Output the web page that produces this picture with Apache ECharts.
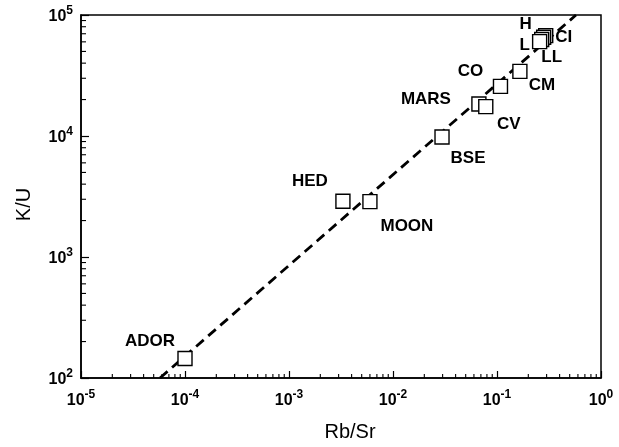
<!DOCTYPE html>
<html>
<head>
<meta charset="utf-8">
<script src="https://cdn.jsdelivr.net/npm/echarts@6/dist/echarts.min.js"></script>
<style>
html,body{margin:0;padding:0;background:#fff;}
#chart{width:619px;height:447px;}
</style>
</head>
<body>
<div id="chart"></div>
<script>
// ---- data ----
const names  = ['ADOR', 'HED', 'MOON', 'BSE', 'MARS', 'CV', 'CO', 'CM', 'CI', 'H', 'LL', 'L'];
const rbSr   = [1.0e-4, 3.3e-3, 6.0e-3, 0.0296, 0.067, 0.078, 0.108, 0.166, 0.294, 0.281, 0.269, 0.257];
const kU     = [145, 2890, 2870, 9800, 18400, 17500, 25700, 34200, 67600, 65500, 62700, 60300];
const fitX   = [5.75e-5, 0.575];
const fitY   = [100, 100000];
const xExps  = [-5, -4, -3, -2, -1, 0];
const yExps  = [2, 3, 4, 5];
const minorMultipliers = [2, 3, 4, 5, 6, 7, 8, 9];

// label placement (pixels relative to marker centre)
const labelOffsets = {
  ADOR: [-35, -17], HED: [-33, -20], MOON: [37, 25], BSE: [26, 21],
  MARS: [-53, -5], CV: [23, 18], CO: [-30, -15], CM: [22, 14],
  L: [-15, 4], LL: [10, 18], H: [-18, -13], CI: [18, 2]
};

const xMin = Math.pow(10, xExps[0]), xMax = Math.pow(10, xExps[xExps.length - 1]);
const yMin = Math.pow(10, yExps[0]), yMax = Math.pow(10, yExps[yExps.length - 1]);

// minor tick values
const xMinor = [];
for (let i = 0; i < xExps.length - 1; i++)
  minorMultipliers.forEach(m => xMinor.push([m * Math.pow(10, xExps[i]), yMin, 0]));
const yMinor = [];
for (let i = 0; i < yExps.length - 1; i++)
  minorMultipliers.forEach(m => yMinor.push([xMin, m * Math.pow(10, yExps[i]), 1]));

const FONT = '"Liberation Sans", Arial, sans-serif';
const supFmt = v => '{b|10}{s|' + Math.round(Math.log10(v)) + '}';
const rich = {
  b: { fontSize: 16, fontWeight: 'bold', lineHeight: 20, verticalAlign: 'bottom', color: '#000', fontFamily: FONT },
  s: { fontSize: 12, fontWeight: 'bold', lineHeight: 7, verticalAlign: 'top', color: '#000', fontFamily: FONT }
};

const chart = echarts.init(document.getElementById('chart'), null, { renderer: 'canvas' });
chart.setOption({
  animation: false,
  backgroundColor: '#fff',
  grid: { left: 81, right: 18, top: 15, bottom: 67, show: true, borderColor: '#000', borderWidth: 1.5, backgroundColor: 'transparent' },
  xAxis: {
    type: 'log', logBase: 10, min: xMin, max: xMax,
    name: 'Rb/Sr', nameLocation: 'middle', nameGap: 44,
    nameTextStyle: { fontSize: 20, color: '#000', fontFamily: FONT, padding: [0, 0, 0, 18] },
    axisLine: { lineStyle: { color: '#000', width: 1.5 } },
    axisTick: { inside: true, length: 7, lineStyle: { color: '#000', width: 1.2 } },
    axisLabel: { formatter: supFmt, rich: rich, margin: 11, color: '#000' },
    splitLine: { show: false }, minorTick: { show: false }
  },
  yAxis: {
    type: 'log', logBase: 10, min: yMin, max: yMax,
    name: 'K/U', nameLocation: 'middle', nameGap: 47, nameRotate: 90,
    nameTextStyle: { fontSize: 20, color: '#000', fontFamily: FONT, padding: [0, 16, 0, 0] },
    axisLine: { lineStyle: { color: '#000', width: 1.5 } },
    axisTick: { inside: true, length: 8, lineStyle: { color: '#000', width: 1.2 } },
    axisLabel: { formatter: supFmt, rich: rich, margin: 8, color: '#000' },
    splitLine: { show: false }, minorTick: { show: false }
  },
  series: [
    {
      type: 'line', data: fitX.map((x, i) => [x, fitY[i]]),
      symbol: 'none', z: 1, silent: true,
      lineStyle: { color: '#000', width: 2.8, type: [10, 6] }
    },
    {
      type: 'custom', z: 3, silent: true, clip: false,
      data: xMinor.concat(yMinor),
      renderItem: function (params, api) {
        const p = api.coord([api.value(0), api.value(1)]);
        const isY = api.value(2) === 1;
        return {
          type: 'line',
          shape: isY ? { x1: p[0], y1: p[1], x2: p[0] + 5, y2: p[1] } : { x1: p[0], y1: p[1], x2: p[0], y2: p[1] - 4 },
          style: { stroke: '#000', lineWidth: 1.1 }
        };
      }
    },
    {
      type: 'scatter', z: 5,
      symbol: 'rect', symbolSize: 14,
      itemStyle: { color: '#fff', borderColor: '#000', borderWidth: 1.4, opacity: 1 },
      data: names.map((n, i) => ({
        name: n, value: [rbSr[i], kU[i]],
        label: { show: true, position: 'inside', offset: labelOffsets[n], formatter: n,
                 fontSize: 17, fontWeight: 'bold', color: '#000', fontFamily: FONT }
      }))
    }
  ]
});
</script>
</body>
</html>
